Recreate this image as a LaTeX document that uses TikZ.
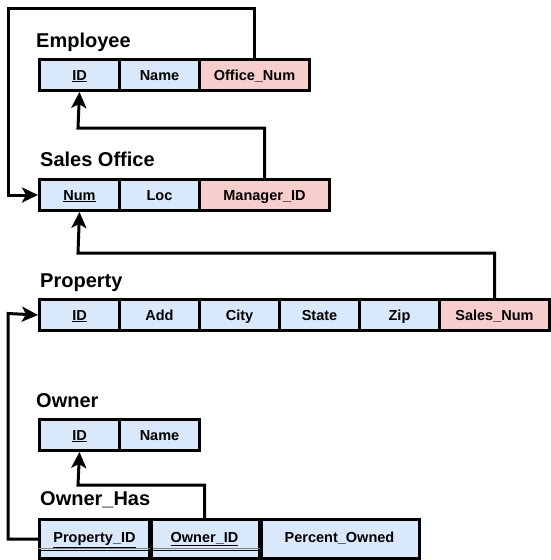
\documentclass[tikz,border=0pt]{standalone}
\usepackage{fontspec}
\setmainfont{Liberation Sans}
\usetikzlibrary{arrows.meta}
\definecolor{blueF}{HTML}{DAE8FC}
\definecolor{redF}{HTML}{F8CECC}
\tikzset{
  cell/.style={draw=black, line width=3pt, fill=blueF, minimum height=31pt, inner sep=0pt,
    text height=13pt, text depth=3pt,
    anchor=north west, font=\bfseries\fontsize{14.5}{17}\selectfont},
  fkcell/.style={cell, fill=redF},
  tallcell/.style={cell, minimum height=39pt, text depth=6pt},
  ttl/.style={anchor=base west, inner sep=0pt, font=\bfseries\fontsize{20}{24}\selectfont},
  conn/.style={draw=black, line width=3pt},
  arr/.style={conn, -{Stealth[length=16pt,width=15pt,inset=4pt]}}
}
\begin{document}
\begin{tikzpicture}[x=1pt,y=-1pt]
\useasboundingbox (0,0) rectangle (550,560);
% Employee
\node[ttl] (tE) at (36,47) {Employee};
\node[cell, minimum width=80pt] (e1) at (38,58) {\underline{ID}};
\node[cell, minimum width=80pt] (e2) at (118,58) {Name};
\node[fkcell, minimum width=110pt] (e3) at (198,58) {Office\_Num};
% Sales Office
\node[ttl] (tS) at (40,166) {Sales Office};
\node[cell, minimum width=80pt] (s1) at (38,178) {\underline{Num}};
\node[cell, minimum width=80pt] (s2) at (118,178) {Loc};
\node[fkcell, minimum width=130pt] (s3) at (198,178) {Manager\_ID};
% Property
\node[ttl] (tP) at (40,287) {Property};
\node[cell, minimum width=80pt] (p1) at (38,298) {\underline{ID}};
\node[cell, minimum width=80pt] (p2) at (118,298) {Add};
\node[cell, minimum width=80pt] (p3) at (198,298) {City};
\node[cell, minimum width=80pt] (p4) at (278,298) {State};
\node[cell, minimum width=80pt] (p5) at (358,298) {Zip};
\node[fkcell, minimum width=110pt] (p6) at (438,298) {Sales\_Num};
% Owner
\node[ttl] (tO) at (36,407) {Owner};
\node[cell, minimum width=80pt] (o1) at (38,418) {\underline{ID}};
\node[cell, minimum width=80pt] (o2) at (118,418) {Name};
% Owner_Has
\node[ttl] (tH) at (40,505) {Owner\_Has};
\node[tallcell, minimum width=110pt] (h1) at (38,518) {\underline{Property\_ID}};
\node[tallcell, minimum width=110pt] (h2) at (148,518) {\underline{Owner\_ID}};
\node[tallcell, minimum width=160pt] (h3) at (258,518) {Percent\_Owned};
\draw[gray, line width=0.8pt] (h1.west |- 0,548.5) -- (h2.east |- 0,548.5);
\draw[black, line width=1.2pt] (h1.west |- 0,550.5) -- (h2.east |- 0,550.5);
\draw[line width=3pt] (h2.north east) -- (h2.south east);
\draw[line width=3pt] (h1.north east) -- (h1.south east);
% connectors
\coordinate (c1) at (8,8);
\coordinate (c2) at (78,128);
\coordinate (c3) at (78,253);
\coordinate (c4) at (8,313.5);
\coordinate (c5) at (78,485);
\draw[arr] (e3.north) |- (c1) |- (s1.west);
\draw[arr] (s3.north) |- (c2) -- (e1.south);
\draw[arr] (p6.north) |- (c3) -- (s1.south);
\draw[arr] (h1.west) -| (c4) -- (p1.west);
\draw[arr] (h2.north) |- (c5) -- (o1.south);
\end{tikzpicture}
\end{document}
